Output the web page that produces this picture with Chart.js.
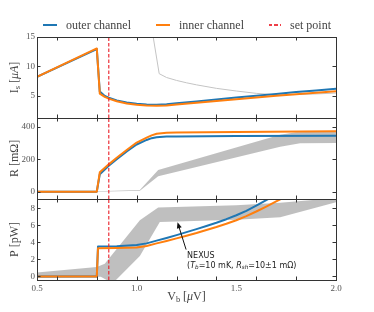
<!DOCTYPE html>
<html>
<head>
<meta charset="utf-8">
<script src="https://cdn.jsdelivr.net/npm/chart.js@4.4.1/dist/chart.umd.min.js"></script>
<style>
  html, body { margin: 0; padding: 0; background: #fff; }
  #wrap { position: relative; width: 374px; height: 312px; overflow: hidden; }
  #wrap canvas { position: absolute; left: 0; top: 0; }
  #legend { position: absolute; left: 0; top: 17px; width: 374px; height: 16px; display: flex;
            justify-content: center; align-items: center; font: 12px "Liberation Serif", serif; color: #444; }
  .item { display: flex; align-items: center; margin: 0 12.5px; white-space: nowrap; }
  .swatch { width: 14px; height: 2px; margin-right: 9px; }
</style>
</head>
<body>
<div id="wrap">
  <canvas id="cIs" width="374" height="312"></canvas>
  <canvas id="cR" width="374" height="312"></canvas>
  <canvas id="cP" width="374" height="312"></canvas>
  <div id="legend"></div>
</div>
<script>
// ---- data ----
const setPoint = 0.86;           // V_b of the set point [uV]

// top panel: I_s [uA]
const vIs     = [0.5, 0.8, 0.815, 0.84, 0.86, 0.9, 0.95, 1.0, 1.05, 1.1, 1.15, 1.2, 1.3, 1.4, 1.5, 1.6, 1.7, 1.8, 1.9, 2.0];
const isOuter = [8.2, 12.95, 5.7, 4.95, 4.65, 4.2, 3.85, 3.62, 3.5, 3.47, 3.55, 3.7, 4.0, 4.35, 4.7, 5.0, 5.3, 5.62, 5.9, 6.2];
const isInner = [8.2, 13.05, 5.35, 4.8, 4.5, 4.05, 3.68, 3.45, 3.32, 3.28, 3.35, 3.5, 3.8, 4.1, 4.4, 4.7, 5.0, 5.25, 5.5, 5.75];
const vIsNexus = [1.07, 1.113, 1.15, 1.2, 1.25, 1.3, 1.4, 1.5, 1.6, 1.7, 1.8, 1.9, 2.0];
const isNexus  = [17.7, 8.75, 8.1, 7.6, 7.2, 6.85, 6.25, 5.8, 5.4, 5.15, 5.2, 5.3, 5.45];

// middle panel: R [mOhm]
const vR     = [0.5, 0.8, 0.815, 0.86, 0.9, 0.95, 1.0, 1.05, 1.075, 1.1, 1.15, 1.2, 1.5, 2.0];
const rOuter = [0, 0, 107, 160, 200, 248, 290, 318, 329, 335, 339, 340, 342, 344];
const rInner = [0, 0, 119, 168, 208, 256, 302, 332, 346, 356, 362, 364, 367, 372];
const vRNexusLo = [0.8, 1.016, 1.108, 1.72, 1.82, 2.0];
const rNexusLo  = [0, 5, 95, 277, 297, 300];
const vRNexusHi = [0.8, 1.016, 1.108, 1.72, 1.8, 2.0];
const rNexusHi  = [2, 10, 133, 350, 365, 372];

// bottom panel: P [pW]
const vP     = [0.5, 0.8, 0.806, 0.9, 1.0, 1.05, 1.1, 1.15, 1.2, 1.25, 1.3, 1.35, 1.4, 1.45, 1.5, 1.55, 1.6, 1.65, 1.7, 1.75];
const pOuter = [0, 0, 3.5, 3.55, 3.7, 3.88, 4.2, 4.52, 4.85, 5.2, 5.55, 5.92, 6.3, 6.72, 7.18, 7.7, 8.3, 8.95, 9.6, 10.3];
const pInner = [0, 0, 3.3, 3.33, 3.4, 3.58, 3.88, 4.17, 4.47, 4.78, 5.1, 5.45, 5.8, 6.18, 6.6, 7.08, 7.62, 8.2, 8.8, 9.4];
const vPNexusLo = [0.5, 0.82, 0.88, 1.016, 1.116, 1.5, 1.72, 2.0];
const pNexusLo  = [-0.15, -0.05, -0.8, 2.4, 6.4, 6.65, 6.95, 8.7];
const vPNexusHi = [0.5, 0.8, 0.84, 1.016, 1.108, 1.5, 1.72, 2.0];
const pNexusHi  = [0.45, 1.1, 1.5, 6.6, 8.1, 8.35, 8.65, 9.2];

// axes
const vTicks = [0.5, 1.0, 1.5, 2.0];
const vMarks = [0.6, 0.8, 1.0, 1.2, 1.4, 1.6, 1.8];
const isTicks = [5, 10, 15];
const rTicks = [0, 200, 400];
const pTicks = [0, 2, 4, 6, 8];

const BLUE = '#1f77b4', ORANGE = '#ff7f0e', BAND = 'rgba(128,128,128,0.5)';
const SERIF = '"Liberation Serif", "DejaVu Serif", serif';

function pts(xs, ys) { return xs.map((x, i) => ({x: x, y: ys[i]})); }

function richText(ctx, parts, x, y, size, family, align) {
  const fontFor = st => (st.includes('i') ? 'italic ' : '') + (st.includes('s') ? size * 0.7 : size) + 'px ' + family;
  let w = 0;
  parts.forEach(([t, st]) => { ctx.font = fontFor(st); w += ctx.measureText(t).width; });
  let cx = align === 'center' ? x - w / 2 : x;
  ctx.textAlign = 'left';
  ctx.textBaseline = 'middle';
  parts.forEach(([t, st]) => {
    ctx.font = fontFor(st);
    ctx.fillText(t, cx, y + (st.includes('s') ? size * 0.25 : 0));
    cx += ctx.measureText(t).width;
  });
}

// frame with inward ticks, axis titles, annotation
const frame = {
  id: 'frame',
  afterDraw(chart, args, o) {
    const {ctx, chartArea: a, scales: {x, y}} = chart;
    ctx.save();
    ctx.strokeStyle = '#333';
    ctx.lineWidth = 1;
    ctx.strokeRect(a.left + 0.5, a.top + 0.5, a.width, a.height);
    ctx.beginPath();
    vMarks.forEach(v => {
      const px = Math.round(x.getPixelForValue(v)) + 0.5;
      ctx.moveTo(px, a.top); ctx.lineTo(px, a.top + 3.5);
      ctx.moveTo(px, a.bottom); ctx.lineTo(px, a.bottom - 3.5);
    });
    y.ticks.forEach(t => {
      const py = Math.round(y.getPixelForValue(t.value)) + 0.5;
      ctx.moveTo(a.left, py); ctx.lineTo(a.left + 3.5, py);
      ctx.moveTo(a.right, py); ctx.lineTo(a.right - 3.5, py);
    });
    ctx.stroke();

    ctx.fillStyle = '#444';
    ctx.save();
    ctx.translate(15, (a.top + a.bottom) / 2);
    ctx.rotate(-Math.PI / 2);
    richText(ctx, o.title, 0, 0, 12, SERIF, 'center');
    ctx.restore();
    if (o.xTitle) richText(ctx, o.xTitle, (a.left + a.right) / 2, 297, 12, SERIF, 'center');

    if (o.note) {
      const n = o.note;
      const x0 = x.getPixelForValue(n.tail[0]), y0 = y.getPixelForValue(n.tail[1]);
      const x1 = x.getPixelForValue(n.head[0]), y1 = y.getPixelForValue(n.head[1]);
      const ang = Math.atan2(y1 - y0, x1 - x0);
      ctx.strokeStyle = '#111';
      ctx.fillStyle = '#111';
      ctx.beginPath(); ctx.moveTo(x0, y0); ctx.lineTo(x1 - 3 * Math.cos(ang), y1 - 3 * Math.sin(ang)); ctx.stroke();
      ctx.beginPath();
      ctx.moveTo(x1, y1);
      ctx.lineTo(x1 - 6 * Math.cos(ang) + 2.5 * Math.sin(ang), y1 - 6 * Math.sin(ang) - 2.5 * Math.cos(ang));
      ctx.lineTo(x1 - 6 * Math.cos(ang) - 2.5 * Math.sin(ang), y1 - 6 * Math.sin(ang) + 2.5 * Math.cos(ang));
      ctx.closePath(); ctx.fill();
      ctx.fillStyle = '#222';
      const tx = x.getPixelForValue(n.at[0]), ty = y.getPixelForValue(n.at[1]);
      n.lines.forEach((ln, i) => richText(ctx, ln, tx, ty + i * 10, 8, '"DejaVu Sans", sans-serif', 'left'));
    }
    ctx.restore();
  }
};

function line(label, xs, ys, color, order) {
  return {label: label, data: pts(xs, ys), borderColor: color, borderWidth: 2, order: order,
          pointRadius: 0, fill: false, tension: 0, borderJoinStyle: 'round'};
}
function band(xs, ys, fill, order) {
  return {data: pts(xs, ys), borderColor: 'rgba(0,0,0,0)', borderWidth: 0, backgroundColor: BAND,
          fill: fill, order: order, pointRadius: 0, tension: 0};
}
function setLine(lo, hi) {
  return {label: 'set point', data: pts([setPoint, setPoint], [lo, hi]), borderColor: 'rgba(235,30,40,0.85)',
          borderWidth: 1.3, borderDash: [3.5, 2], order: 0, pointRadius: 0, fill: false};
}

function makeChart(id, datasets, yMin, yMax, yTicks, pad, opts) {
  const showX = !!opts.xTitle;
  return new Chart(document.getElementById(id), {
    type: 'line',
    data: {datasets: datasets},
    options: {
      responsive: false, animation: false, devicePixelRatio: 1,
      layout: {padding: {left: 0, right: 38, top: pad[0], bottom: pad[1]}},
      plugins: {legend: {display: false}, tooltip: {enabled: false}, frame: opts},
      scales: {
        x: {type: 'linear', min: 0.5, max: 2.0, display: showX,
            grid: {display: false, drawTicks: false}, border: {display: false},
            afterBuildTicks: s => { s.ticks = vTicks.map(v => ({value: v})); },
            afterFit: s => { s.height = showX ? 20 : 0; },
            ticks: {padding: 3, color: '#555', font: {family: SERIF, size: 9},
                    callback: v => v.toFixed(1), maxRotation: 0, autoSkip: false}},
        y: {type: 'linear', min: yMin, max: yMax,
            grid: {display: false, drawTicks: false}, border: {display: false},
            afterBuildTicks: s => { s.ticks = yTicks.map(v => ({value: v})); },
            afterFit: s => { s.width = 37; },
            ticks: {padding: 2, color: '#555', font: {family: SERIF, size: 9}}}
      }
    },
    plugins: [frame]
  });
}

const isMin = 1.2, isMax = 15, rMin = -45, rMax = 453, pMin = -0.42, pMax = 9.09;

const c1 = makeChart('cIs', [
  setLine(isMin, isMax),
  line('inner channel', vIs, isInner, ORANGE, 1),
  line('outer channel', vIs, isOuter, BLUE, 2),
  {data: pts(vIsNexus, isNexus), borderColor: '#c4c4c4', borderWidth: 1, order: 3, pointRadius: 0, fill: false,
   tension: 0}
], isMin, isMax, isTicks, [37, 194],
  {title: [['I', ''], ['s', 's'], [' [', ''], ['μA', 'i'], [']', '']]});

makeChart('cR', [
  setLine(rMin, rMax),
  line('inner channel', vR, rInner, ORANGE, 1),
  line('outer channel', vR, rOuter, BLUE, 2),
  band(vRNexusLo, rNexusLo, false, 4),
  band(vRNexusHi, rNexusHi, '-1', 3)
], rMin, rMax, rTicks, [118, 113],
  {title: [['R [mΩ]', '']]});

makeChart('cP', [
  setLine(pMin, pMax),
  line('inner channel', vP, pInner, ORANGE, 1),
  line('outer channel', vP, pOuter, BLUE, 2),
  band(vPNexusLo, pNexusLo, false, 4),
  band(vPNexusHi, pNexusHi, '-1', 3)
], pMin, pMax, pTicks, [199, 12],
  {title: [['P [pW]', '']],
   xTitle: [['V', ''], ['b', 's'], [' [', ''], ['μ', 'i'], ['V]', '']],
   note: {tail: [1.248, 3.15], head: [1.205, 6.35], at: [1.253, 2.45],
          lines: [[['NEXUS', '']],
                  [['(', ''], ['T', 'i'], ['b', 'is'], ['=10 mK, ', ''], ['R', 'i'], ['sh', 'is'], ['=10±1 mΩ)', '']]]}});

// html legend built from the first chart's datasets
const legend = document.getElementById('legend');
['outer channel', 'inner channel', 'set point'].forEach(name => {
  const ds = c1.data.datasets.find(d => d.label === name);
  const item = document.createElement('div');
  item.className = 'item';
  const sw = document.createElement('span');
  sw.className = 'swatch';
  if (ds.borderDash) {
    sw.style.width = '12px';
    sw.style.height = '1.5px';
    sw.style.background = 'repeating-linear-gradient(90deg, ' + ds.borderColor + ' 0 3.5px, transparent 3.5px 5.5px)';
  } else {
    sw.style.background = ds.borderColor;
  }
  item.appendChild(sw);
  item.appendChild(document.createTextNode(name));
  legend.appendChild(item);
});
</script>
</body>
</html>
